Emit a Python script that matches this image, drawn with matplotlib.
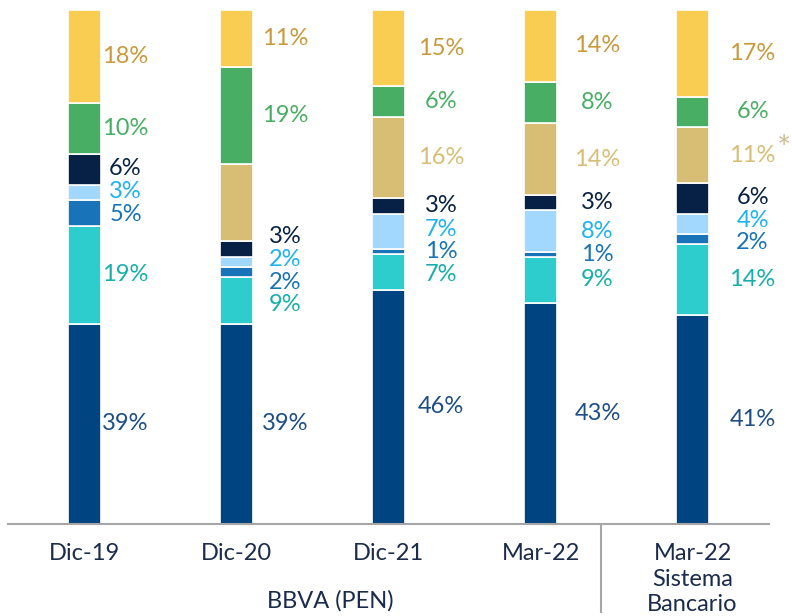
import matplotlib.pyplot as plt
import matplotlib.transforms as mtransforms
import numpy as np

plt.rcParams['font.family'] = ['Lato', 'DejaVu Sans']

categories = ["Dic-19", "Dic-20", "Dic-21", "Mar-22", "Mar-22\nSistema\nBancario"]

# stacked from the bottom of each bar upwards
dark_blue = [39, 39, 46, 43, 41]
teal = [19, 9, 7, 9, 14]
mid_blue = [5, 2, 1, 1, 2]
light_blue = [3, 2, 7, 8, 4]
navy = [6, 3, 3, 3, 6]
tan = [0, 15, 16, 14, 11]
green = [10, 19, 6, 8, 6]
yellow = [18, 11, 15, 14, 17]

series = [dark_blue, teal, mid_blue, light_blue, navy, tan, green, yellow]
fills = ['#004481', '#2DCCCD', '#1973B8', '#A2D8FD', '#072146', '#D8BE75', '#48AE64', '#F8CD51']
text_cols = ['#1D4E86', '#17AFAB', '#1973B8', '#1EB2F2', '#072146', '#D8BE75', '#48AE64', '#C99A3C']

# segments without a printed value
hidden = {(5, 1)}

label_dx = [0.27, 0.32, 0.345, 0.375, 0.395]
min_gap = 4.4
fs = 17

fig = plt.figure(figsize=(7.92, 6.16), dpi=100)
ax = fig.add_axes([8 / 792, 92 / 616, 761 / 792, 514 / 616])

x = np.arange(len(categories))
data = np.array(series, dtype=float)
totals = data.sum(axis=0)
norm = data / totals * 100

bottom = np.zeros(len(categories))
for vals, col in zip(norm, fills):
    ax.bar(x, vals, bottom=bottom, width=0.217, color=col, edgecolor='white', linewidth=1.2)
    bottom += vals


def spread(ys, gap):
    ys = list(ys)
    for _ in range(200):
        moved = False
        for k in range(len(ys) - 1):
            d = ys[k + 1] - ys[k]
            if d < gap:
                push = (gap - d) / 2
                ys[k] -= push
                ys[k + 1] += push
                moved = True
        if not moved:
            break
    return ys


for j in range(len(categories)):
    base = 0
    items = []
    for i in range(len(series)):
        h = norm[i, j]
        if series[i][j] > 0 and (i, j) not in hidden:
            items.append((base + h / 2, i))
        base += h
    ys = spread([c for c, _ in items], min_gap)
    for y, (_, i) in zip(ys, items):
        ax.text(x[j] + label_dx[j], y, f"{series[i][j]}%", color=text_cols[i],
                fontsize=fs, ha='center', va='center')
        if j == 4 and i == 5:
            ax.text(x[j] + label_dx[j] + 0.21, y + 0.9, "*", color='#CDBE96',
                    fontsize=24, ha='center', va='center')

ax.set_xlim(-0.503, 4.503)
ax.set_ylim(0, 100)
ax.set_yticks([])
for s in ['top', 'right', 'left']:
    ax.spines[s].set_visible(False)
ax.spines['bottom'].set_color('#A6A6A6')
ax.spines['bottom'].set_linewidth(1.5)
ax.set_xticks(x)
ax.set_xticklabels(categories, fontsize=fs, color='#1A2B4C', linespacing=1.25)
ax.tick_params(axis='x', length=0, pad=14)

# separator between the bank and the banking system
trans = mtransforms.blended_transform_factory(ax.transData, fig.transFigure)
ax.plot([3.40, 3.40], [1 - 525 / 616, 1 - 612 / 616], transform=trans,
        color='#A6A6A6', linewidth=1.5, clip_on=False)

fig.text(330 / 792, 1 - 601 / 616, "BBVA (PEN)", fontsize=fs, color='#1A2B4C',
         ha='center', va='center')

fig.savefig('out.png', dpi=100)
